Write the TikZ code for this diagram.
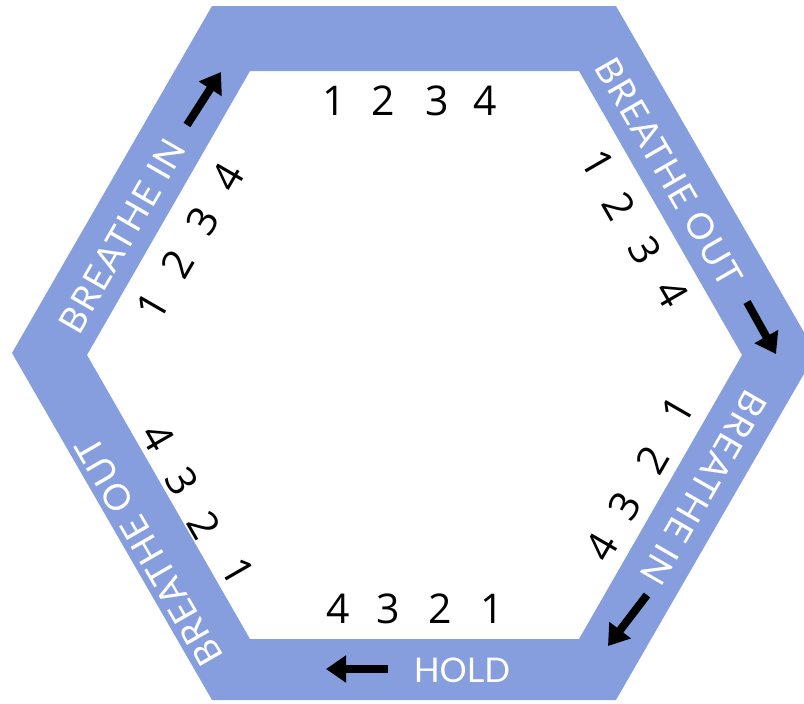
\documentclass[tikz,border=0pt]{standalone}
\usepackage{fontspec}
\setmainfont{Lato}
\newfontfamily\digitfont{Open Sans}
\newfontfamily\spacedfont[LetterSpace=4]{Lato}
\usetikzlibrary{arrows.meta}
\definecolor{bandblue}{RGB}{134,158,222}
\tikzset{
  lbl/.style={text=white, font=\spacedfont\fontsize{36}{36}\selectfont, inner sep=0pt},
  holdlbl/.style={text=white, font=\fontsize{34}{34}\selectfont, inner sep=0pt},
  num/.style={font=\digitfont\fontsize{41}{41}\selectfont, inner sep=0pt},
  arr/.style={line width=8pt, -{Triangle[length=20pt,width=26pt]}}
}
\begin{document}
\begin{tikzpicture}[x=1pt,y=-1pt]
\useasboundingbox (0,0) rectangle (804,704);
\clip (0,0) rectangle (804,704);
% band
\fill[bandblue, even odd rule]
  (12,353) -- (212,6) -- (616,6) -- (816,353) -- (616,700) -- (212,700) -- cycle
  (87,355) -- (250,71) -- (579,71) -- (742,355) -- (579,639) -- (250,639) -- cycle;
% labels
\node[lbl, rotate=60]   (tl) at (122,236) {BREATHE IN};
\node[lbl, rotate=-60]  (tr) at (669,172) {BREATHE OUT};
\node[lbl, rotate=-120] (br) at (704,488) {BREATHE IN};
\node[lbl, rotate=120]  (bl) at (149,552) {BREATHE OUT};
\node[holdlbl]          (bo) at (462,670) {HOLD};
% arrows
\coordinate (a1s) at (187,125); \coordinate (a1e) at (221,72);
\coordinate (a2s) at (747,302); \coordinate (a2e) at (776,354);
\coordinate (a3s) at (647,595); \coordinate (a3e) at (608,646);
\coordinate (a4s) at (388,669); \coordinate (a4e) at (326,669);
\draw[arr] (a1s) -- (a1e);
\draw[arr] (a2s) -- (a2e);
\draw[arr] (a3s) -- (a3e);
\draw[arr] (a4s) -- (a4e);
% digits top
\node[num] (t1) at (334,101) {1};
\node[num] (t2) at (383,101) {2};
\node[num] (t3) at (437,101) {3};
\node[num] (t4) at (485,101) {4};
% digits top-left
\node[num, rotate=60] (l1) at (153,306) {1};
\node[num, rotate=60] (l2) at (178,264) {2};
\node[num, rotate=60] (l3) at (203,221) {3};
\node[num, rotate=60] (l4) at (228,177) {4};
% digits top-right
\node[num, rotate=-60] (r1) at (598,163) {1};
\node[num, rotate=-60] (r2) at (619,206) {2};
\node[num, rotate=-60] (r3) at (645,250) {3};
\node[num, rotate=-60] (r4) at (672,293) {4};
% digits bottom-right
\node[num, rotate=60] (s1) at (678,410) {1};
\node[num, rotate=60] (s2) at (652,460) {2};
\node[num, rotate=60] (s3) at (625,506) {3};
\node[num, rotate=60] (s4) at (602,547) {4};
% digits bottom-left
\node[num, rotate=-60] (q1) at (238,571) {1};
\node[num, rotate=-60] (q2) at (204,525) {2};
\node[num, rotate=-60] (q3) at (182,481) {3};
\node[num, rotate=-60] (q4) at (158,437) {4};
% digits bottom
\node[num] (b4) at (338,609) {4};
\node[num] (b3) at (388,609) {3};
\node[num] (b2) at (440,609) {2};
\node[num] (b1) at (492,609) {1};
\end{tikzpicture}
\end{document}
